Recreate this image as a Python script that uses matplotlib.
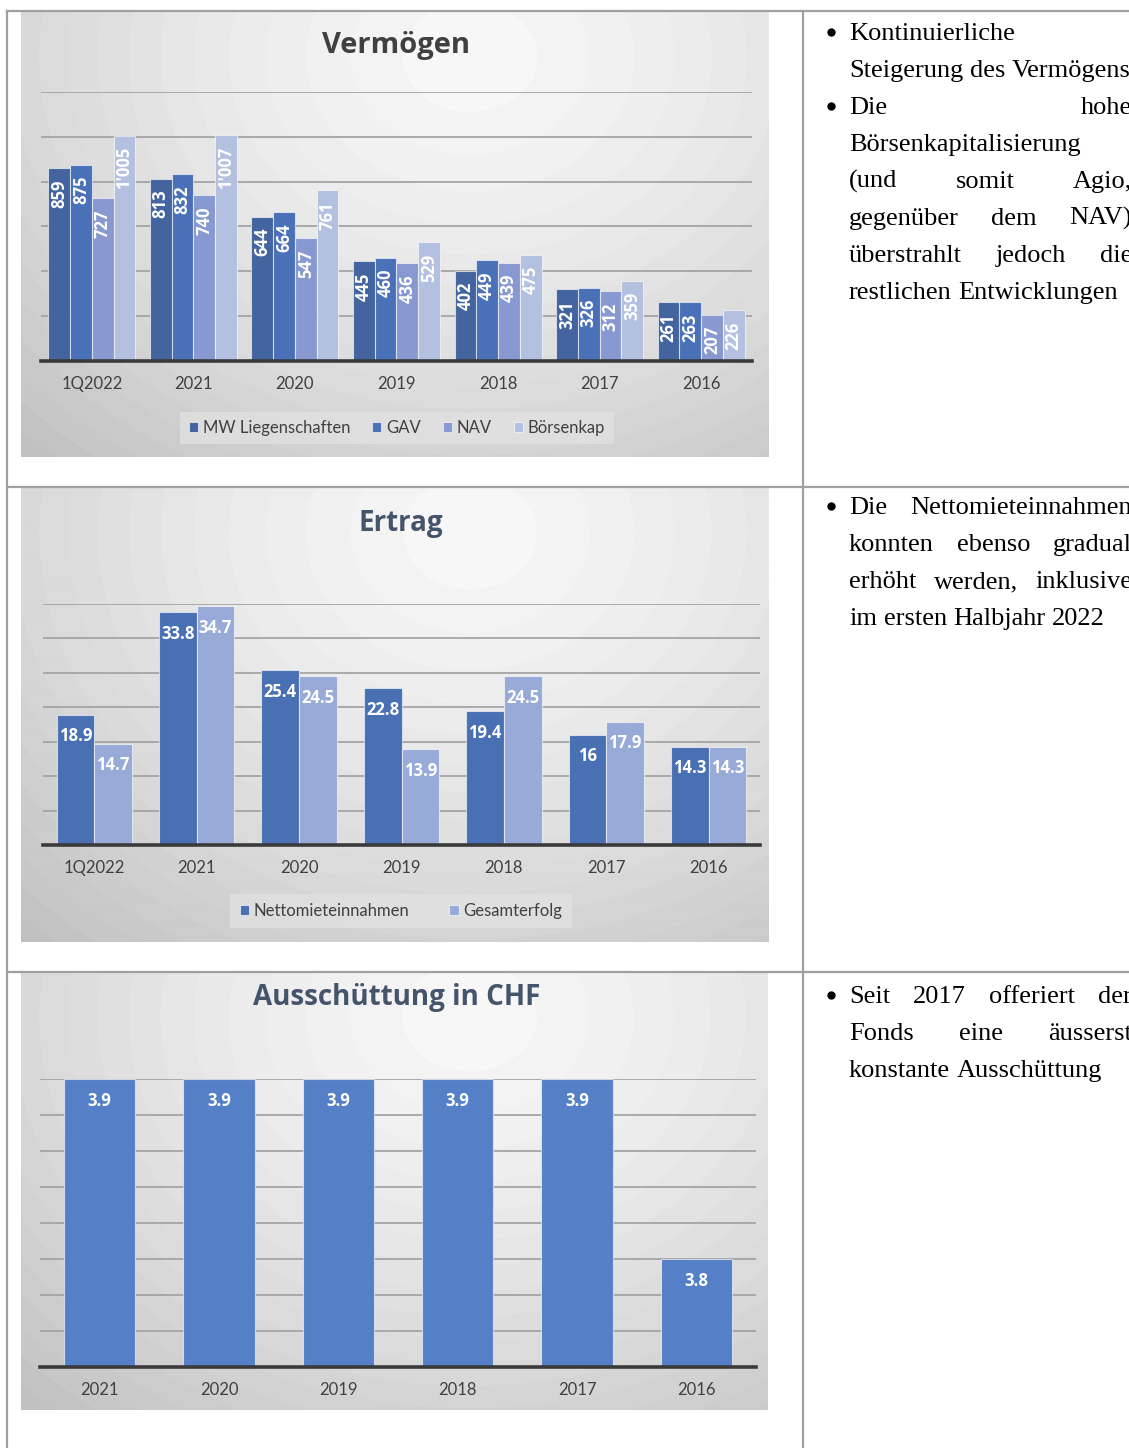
import numpy as np
import matplotlib
matplotlib.use("Agg")
import matplotlib.pyplot as plt
from matplotlib.ticker import MultipleLocator
from matplotlib.lines import Line2D

W, H = 1129, 1448

# --- data -------------------------------------------------------------
periods = ['1Q2022', '2021', '2020', '2019', '2018', '2017', '2016']
mw_liegenschaften = [859, 813, 644, 445, 402, 321, 261]
gav = [875, 832, 664, 460, 449, 326, 263]
nav = [727, 740, 547, 436, 439, 312, 207]
boersenkap = [1005, 1007, 761, 529, 475, 359, 226]

netto_miete = [18.9, 33.8, 25.4, 22.8, 19.4, 16, 14.3]
gesamterfolg = [14.7, 34.7, 24.5, 13.9, 24.5, 17.9, 14.3]

years_dist = ['2021', '2020', '2019', '2018', '2017', '2016']
ausschuettung = [3.9, 3.9, 3.9, 3.9, 3.9, 3.8]

fig = plt.figure(figsize=(W / 100, H / 100), dpi=100)
fig.patch.set_facecolor('white')

TITLE_FONT = 'Open Sans'
TICK_FONT = 'Lato'
SERIF = ['Liberation Serif', 'DejaVu Serif']


def px_rect(x0, y0, x1, y1):
    return [x0 / W, 1 - y1 / H, (x1 - x0) / W, (y1 - y0) / H]


def backdrop(x0, y0, x1, y1):
    # banded radial gray gradient behind each chart
    ax = fig.add_axes(px_rect(x0, y0, x1, y1), zorder=0)
    w, h = x1 - x0, y1 - y0
    yy, xx = np.mgrid[0:h, 0:w]
    cx, cy = 0.6 * w, 0.1 * h
    d = np.hypot((xx - cx) / (0.8 * w), (yy - cy) / (1.1 * h))
    v = 0.97 - 0.19 * np.clip(d, 0, 1.25) ** 1.4
    v = np.round(v * 90) / 90
    ax.imshow(v, cmap='gray', vmin=0, vmax=1, aspect='auto',
              interpolation='bilinear')
    ax.axis('off')


def style_axes(ax, ymax, step, labels, ymin=0):
    ax.set_facecolor('none')
    ax.set_ylim(ymin, ymax)
    ax.yaxis.set_major_locator(MultipleLocator(step))
    ax.grid(axis='y', color='#A4A4A4', lw=1.3)
    ax.set_axisbelow(True)
    for s in ['top', 'left', 'right']:
        ax.spines[s].set_visible(False)
    ax.spines['bottom'].set_color('#3A3A3A')
    ax.spines['bottom'].set_linewidth(2.6)
    ax.set_xlim(-0.5, len(labels) - 0.5)
    ax.set_xticks(range(len(labels)))
    ax.set_xticklabels(labels, fontsize=12, family=TICK_FONT, color='#404040')
    ax.tick_params(axis='x', length=0, pad=11)
    ax.tick_params(axis='y', length=0, labelleft=False)


def bar_labels(ax, xs, vals, texts, rotation=0, offset=-9, size=12):
    for x, v, t in zip(xs, vals, texts):
        ax.annotate(t, (x, v), xytext=(0, offset), textcoords='offset points',
                    ha='center', va='top', rotation=rotation, color='white',
                    fontsize=size, fontweight='bold', family=TITLE_FONT)


# --- chart 1: Vermögen ------------------------------------------------
backdrop(21, 12, 769, 457)
ax1 = fig.add_axes(px_rect(41, 92, 752, 361), zorder=1)
x = np.arange(len(periods))
bw = 0.214
series1 = [(mw_liegenschaften, '#43649E', 'MW Liegenschaften'),
           (gav, '#4A70B8', 'GAV'),
           (nav, '#8799D0', 'NAV'),
           (boersenkap, '#B4C0E0', 'Börsenkap')]
for i, (vals, col, name) in enumerate(series1):
    xs = x + (i - 1.5) * bw
    ax1.bar(xs, vals, bw, color=col, edgecolor=(1, 1, 1, 0.6), lw=0.8, label=name)
    bar_labels(ax1, xs, vals, [f"{v:,}".replace(',', "'") for v in vals],
               rotation=90, offset=-8, size=12)
style_axes(ax1, 1200, 200, periods)
fig.text(396 / W, 1 - 45 / H, 'Vermögen', ha='center', va='center',
         fontsize=21, fontweight='bold', family=TITLE_FONT, color='#404040')
leg1 = fig.legend(*ax1.get_legend_handles_labels(), loc='center',
                  bbox_to_anchor=(397 / W, 1 - 428 / H), ncol=4,
                  handlelength=0.55, handleheight=0.55, handletextpad=0.3,
                  columnspacing=1.3, fancybox=False, facecolor='#E2E2E2',
                  framealpha=0.75, edgecolor='none', borderpad=0.5,
                  prop={'family': TICK_FONT, 'size': 12})
for t in leg1.get_texts():
    t.set_color('#404040')

# --- chart 2: Ertrag --------------------------------------------------
backdrop(21, 488, 769, 942)
ax2 = fig.add_axes(px_rect(43, 604, 760, 845), zorder=1)
bw2 = 0.368
series2 = [(netto_miete, '#4A70B4', 'Nettomieteinnahmen'),
           (gesamterfolg, '#98AAD7', 'Gesamterfolg')]
for i, (vals, col, name) in enumerate(series2):
    xs = x + (i - 0.5) * bw2
    ax2.bar(xs, vals, bw2, color=col, edgecolor=(1, 1, 1, 0.6), lw=0.8, label=name)
    bar_labels(ax2, xs, vals, [f"{v:g}" for v in vals], offset=-9, size=12)
style_axes(ax2, 35, 5, periods)
fig.text(401 / W, 1 - 524 / H, 'Ertrag', ha='center', va='center',
         fontsize=20, fontweight='bold', family=TITLE_FONT, color='#44546A')
leg2 = fig.legend(*ax2.get_legend_handles_labels(), loc='center',
                  bbox_to_anchor=(401 / W, 1 - 911 / H), ncol=2,
                  handlelength=0.55, handleheight=0.55, handletextpad=0.3,
                  columnspacing=2.4, fancybox=False, facecolor='#E2E2E2',
                  framealpha=0.75, edgecolor='none', borderpad=0.55,
                  prop={'family': TICK_FONT, 'size': 12})
for t in leg2.get_texts():
    t.set_color('#404040')

# --- chart 3: Ausschüttung --------------------------------------------
backdrop(21, 973, 768, 1410)
ax3 = fig.add_axes(px_rect(40, 1079, 756, 1367), zorder=1)
x3 = np.arange(len(years_dist))
ax3.bar(x3, ausschuettung, 0.6, color='#5580C8', edgecolor=(1, 1, 1, 0.6), lw=0.8)
bar_labels(ax3, x3, ausschuettung, [f"{v:g}" for v in ausschuettung],
           offset=-9, size=12)
style_axes(ax3, 3.9, 0.02, years_dist, ymin=3.74)
fig.text(397 / W, 1 - 997 / H, 'Ausschüttung in CHF', ha='center', va='center',
         fontsize=20, fontweight='bold', family=TITLE_FONT, color='#44546A')

# --- table frame and commentary ---------------------------------------
ov = fig.add_axes([0, 0, 1, 1], zorder=5)
ov.set_xlim(0, W)
ov.set_ylim(H, 0)
ov.axis('off')
ov.patch.set_alpha(0)

frame = '#A0A0A0'
for (xa, ya, xb, yb) in [(7, 11, W, 11), (7, 487, W, 487), (7, 972, W, 972),
                         (7, 11, 7, H), (803, 11, 803, H)]:
    ov.add_line(Line2D([xa, xb], [ya, yb], color=frame, lw=1.6))

TEXT_LEFT, TEXT_RIGHT = 849, 1132
SPACE = 6.6
renderer = fig.canvas.get_renderer()


def write_line(content, base_y, justify, bullet=False):
    words = content.split()
    texts = [ov.text(0, base_y, w, fontsize=19, family=SERIF, color='black',
                     va='baseline', ha='left') for w in words]
    widths = [t.get_window_extent(renderer).width for t in texts]
    gap = SPACE
    if justify and len(words) > 1:
        gap = (TEXT_RIGHT - TEXT_LEFT - sum(widths)) / (len(words) - 1)
    xpos = TEXT_LEFT
    for t, wd in zip(texts, widths):
        t.set_x(xpos)
        xpos += wd + gap
    if bullet:
        ov.plot(831, base_y - 8.5, 'o', ms=6, color='black', mew=0)


commentary = [
    ('Kontinuierliche', 40, False, True),
    ('Steigerung des Vermögens', 77, False, False),
    ('Die hohe', 114, True, True),
    ('Börsenkapitalisierung', 151, False, False),
    ('(und somit Agio,', 188, True, False),
    ('gegenüber dem NAV)', 225, True, False),
    ('überstrahlt jedoch die', 262, True, False),
    ('restlichen Entwicklungen', 299, False, False),
    ('Die Nettomieteinnahmen', 514, True, True),
    ('konnten ebenso gradual', 551, True, False),
    ('erhöht werden, inklusive', 588, True, False),
    ('im ersten Halbjahr 2022', 625, False, False),
    ('Seit 2017 offeriert der', 1003, True, True),
    ('Fonds eine äusserst', 1040, True, False),
    ('konstante Ausschüttung', 1077, False, False),
]
for content, yb, just, bul in commentary:
    write_line(content, yb, just, bul)

fig.savefig('out.png', dpi=100)
